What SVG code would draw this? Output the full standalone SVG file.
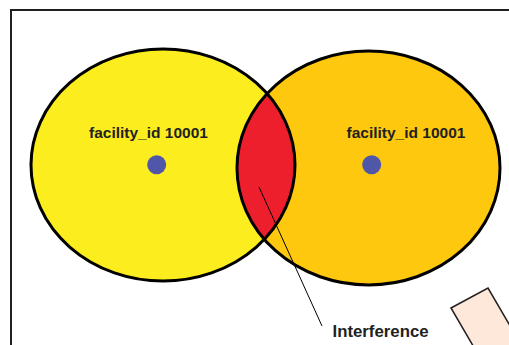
<svg xmlns="http://www.w3.org/2000/svg" width="509" height="345" viewBox="0 0 509 345">
<style>
.lbl{font-family:"Liberation Sans",Arial,sans-serif;font-weight:bold;fill:#231f20}
.ring{fill:none;stroke:#000;stroke-width:3}
.dot{fill:#5157a8}
</style>
<defs>
<clipPath id="clipL"><ellipse cx="163" cy="165" rx="132" ry="116"/></clipPath>
</defs>
<rect width="509" height="345" fill="#fff"/>
<path d="M11,345 V10 H509" fill="none" stroke="#231f20" stroke-width="2"/>
<g id="facility-left">
<ellipse cx="163" cy="165" rx="132" ry="116" fill="#fced1f"/>
</g>
<g id="facility-right">
<ellipse cx="368.5" cy="168" rx="131.5" ry="117" fill="#fec80e"/>
</g>
<g id="interference-zone">
<ellipse cx="368.5" cy="168" rx="131.5" ry="117" fill="#ed1f2d" clip-path="url(#clipL)"/>
</g>
<ellipse class="ring" cx="163" cy="165" rx="132" ry="116"/>
<ellipse class="ring" cx="368.5" cy="168" rx="131.5" ry="117"/>
<g id="label-left">
<text class="lbl" x="89" y="138" font-size="15.5">facility_id 10001</text>
<circle class="dot" cx="156.7" cy="164.7" r="9.5"/>
</g>
<g id="label-right">
<text class="lbl" x="346.5" y="138" font-size="15.5">facility_id 10001</text>
<circle class="dot" cx="371.7" cy="164.7" r="9.5"/>
</g>
<g id="connectors">
<line x1="259" y1="187" x2="322" y2="326" stroke="#000" stroke-width="1"/>
</g>
<g id="interference-label">
<text class="lbl" x="332.5" y="337" font-size="16.8">Interference</text>
</g>
<g id="box">
<polygon points="451,308 488,288 530,360 493,380" fill="#fde8da" stroke="#231f20" stroke-width="1.5"/>
</g>
</svg>
